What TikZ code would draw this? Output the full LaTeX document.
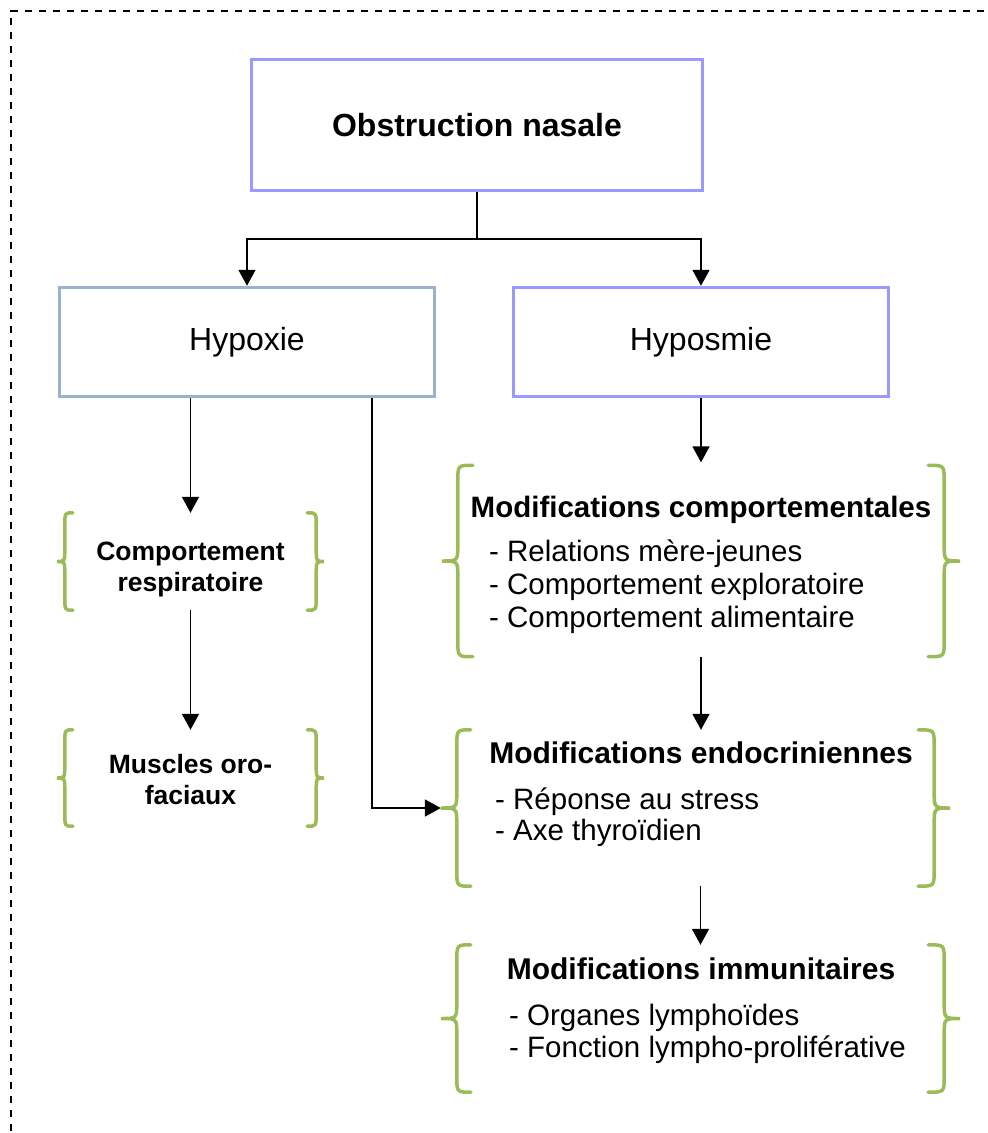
\documentclass[tikz,border=0pt]{standalone}
\usepackage{fontspec}
\setmainfont{Liberation Sans}
\usetikzlibrary{arrows.meta,calc}
\definecolor{lav}{RGB}{153,153,255}
\definecolor{greyblue}{RGB}{155,177,204}
\definecolor{olivegreen}{RGB}{155,187,89}
% left brace on node #1: #2 vertical offset, #3 end offset, #4 curl radius
\newcommand\leftbrc[4]{%
  \draw[brc] ($(#1.north west)+(#3,0)$) .. controls ($(#1.north west)+(#2,0)$) .. ($(#1.north west)+(#2,#4)$)
    -- ($(#1.west)+(#2,-#4)$) .. controls ($(#1.west)+(#2,0)$) .. (#1.west)
    .. controls ($(#1.west)+(#2,0)$) .. ($(#1.west)+(#2,#4)$)
    -- ($(#1.south west)+(#2,-#4)$) .. controls ($(#1.south west)+(#2,0)$) .. ($(#1.south west)+(#3,0)$);}
\newcommand\rightbrc[4]{%
  \draw[brc] ($(#1.north east)+(-#3,0)$) .. controls ($(#1.north east)+(-#2,0)$) .. ($(#1.north east)+(-#2,#4)$)
    -- ($(#1.east)+(-#2,-#4)$) .. controls ($(#1.east)+(-#2,0)$) .. (#1.east)
    .. controls ($(#1.east)+(-#2,0)$) .. ($(#1.east)+(-#2,#4)$)
    -- ($(#1.south east)+(-#2,-#4)$) .. controls ($(#1.south east)+(-#2,0)$) .. ($(#1.south east)+(-#3,0)$);}
\begin{document}
\begin{tikzpicture}[x=1pt,y=-1pt,
  mainbox/.style={draw=#1, line width=3.5pt, inner sep=0pt},
  brc/.style={draw=olivegreen, line width=3.5pt, line cap=round},
  arr/.style={line width=1.8pt, -{Triangle[width=17pt,length=16pt]}},
  grp/.style={inner sep=0pt},
  bigtxt/.style={font=\fontsize{32}{38}\selectfont},
  gtitle/.style={font=\bfseries\fontsize{30}{36}\selectfont, anchor=base, inner sep=0pt},
  item/.style={font=\fontsize{29.5}{35}\selectfont, anchor=base west, inner sep=0pt},
  stitle/.style={font=\bfseries\fontsize{26.5}{31}\selectfont, anchor=base, inner sep=0pt}]
\useasboundingbox (0,0) rectangle (988,1133);
% dashed frame
\draw[line width=2pt, dash pattern=on 7.5pt off 6.5pt] (11,1145) -- (11,10.5) -- (1000,10.5);

% main boxes
\node[mainbox=lav, minimum width=451pt, minimum height=131pt, bigtxt, font=\bfseries\fontsize{32}{38}\selectfont] (obs) at (477,125) {Obstruction nasale};
\node[mainbox=greyblue, minimum width=375pt, minimum height=109pt, bigtxt] (hypoxie) at (247,342) {\raisebox{-3.3pt}{Hypoxie}};
\node[mainbox=lav, minimum width=375pt, minimum height=109pt, bigtxt] (hyposmie) at (701,342) {\raisebox{-1.3pt}{Hyposmie}};

% groups (brace extents)
\node[grp, minimum width=267pt, minimum height=97pt] (g1) at (190.5,561.5) {};
\node[grp, minimum width=267pt, minimum height=96pt] (g2) at (190.5,778) {};
\node[grp, minimum width=518pt, minimum height=191pt] (g3) at (701,561) {};
\node[grp, minimum width=509pt, minimum height=156pt] (g4) at (695.5,808) {};
\node[grp, minimum width=519pt, minimum height=147pt] (g5) at (700.5,1018.5) {};

\leftbrc{g1}{8}{16}{13}\rightbrc{g1}{8}{17}{13}
\leftbrc{g2}{8}{16}{13}\rightbrc{g2}{8}{17}{13}
\leftbrc{g3}{16}{31}{16}\rightbrc{g3}{16}{32}{16}
\leftbrc{g4}{16}{30}{16}\rightbrc{g4}{16}{32}{16}
\leftbrc{g5}{16}{30}{16}\rightbrc{g5}{16}{32}{16}

% texts
\node[stitle] (t1a) at (190.5,560) {Comportement};
\node[stitle] (t1b) at (190.5,591) {respiratoire};
\node[stitle] (t2a) at (190.5,773) {Muscles oro-};
\node[stitle] (t2b) at (190.5,804) {faciaux};

\node[gtitle, font=\bfseries\fontsize{29.5}{36}\selectfont] (t3) at (701,517) {Modifications comportementales};
\node[item] (t3a) at (489,561) {- Relations mère-jeunes};
\node[item] (t3b) at (489,594) {- Comportement exploratoire};
\node[item] (t3c) at (489,627) {- Comportement alimentaire};

\node[gtitle] (t4) at (701,763) {Modifications endocriniennes};
\node[item] (t4a) at (495,809) {- Réponse au stress};
\node[item] (t4b) at (495,840) {- Axe thyroïdien};

\node[gtitle] (t5) at (701,979) {Modifications immunitaires};
\node[item] (t5a) at (509,1025) {- Organes lymphoïdes};
\node[item] (t5b) at (509,1057) {- Fonction lympho-proliférative};

% connectors
\coordinate (split) at ($(obs.south)!0.5!(hypoxie.north)$);
\draw[arr] (obs.south) -- (obs.south |- split) -| (hypoxie.north);
\draw[arr] (obs.south |- split) -| (hyposmie.north);
\draw[arr] (hypoxie.south -| g1.north) -- (g1.north);
\draw[arr] (g1.south) -- (g2.north);
\draw[arr] ($(hypoxie.south east)+(-64,0)$) |- (g4.west);
\draw[arr] (hyposmie.south) -- ($(g3.north)+(0,-3)$);
\draw[arr] (g3.south) -- (g3.south |- g4.north);
\draw[arr] (g4.south -| g5.north) -- (g5.north);
\end{tikzpicture}
\end{document}
